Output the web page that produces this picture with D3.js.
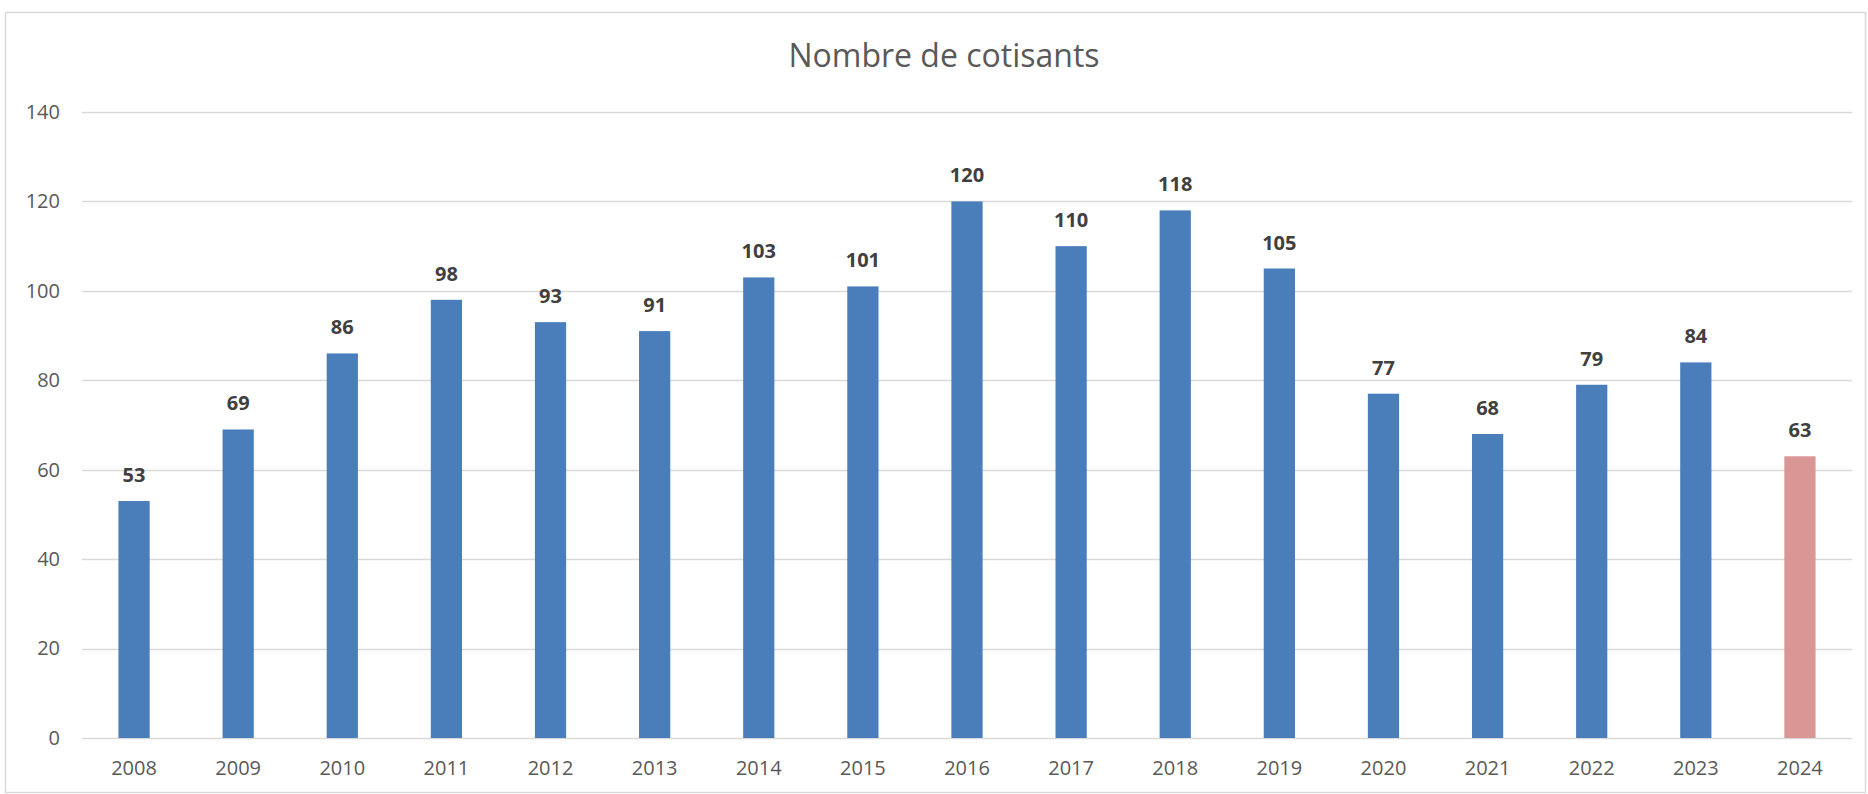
<!DOCTYPE html>
<html>
<head>
<meta charset="utf-8">
<script src="https://cdn.jsdelivr.net/npm/d3@7"></script>
<style>
  html, body { margin: 0; padding: 0; background: #fff; }
  svg { display: block; font-family: "Open Sans", sans-serif; }
</style>
</head>
<body>
<svg id="chart" width="1868" height="794"></svg>
<script>
const years = ['2008', '2009', '2010', '2011', '2012', '2013', '2014', '2015', '2016',
  '2017', '2018', '2019', '2020', '2021', '2022', '2023', '2024']
const cotisants = [53, 69, 86, 98, 93, 91, 103, 101, 120, 110, 118, 105, 77, 68, 79, 84, 63]
const yTicks = [0, 20, 40, 60, 80, 100, 120, 140]
const title = 'Nombre de cotisants'

const svg = d3.select('#chart')
const W = 1868, H = 794
const plot = { left: 82, right: 1852, top: 112, bottom: 738 }

// cadre du graphique
svg.append('rect')
  .attr('x', 5.5).attr('y', 12.5)
  .attr('width', W - 8).attr('height', H - 14)
  .attr('fill', '#fff')
  .attr('stroke', '#d9d9d9')
  .attr('stroke-width', 1.5)

const x = d3.scaleBand()
  .domain(years)
  .range([plot.left, plot.right])
  .paddingInner(0.7)
  .paddingOuter(0.35)

const y = d3.scaleLinear()
  .domain([0, 140])
  .range([plot.bottom, plot.top])

// grille horizontale
svg.append('g')
  .selectAll('line')
  .data(yTicks)
  .join('line')
    .attr('x1', plot.left).attr('x2', plot.right)
    .attr('y1', d => Math.round(y(d)) + 0.5)
    .attr('y2', d => Math.round(y(d)) + 0.5)
    .attr('stroke', '#d9d9d9')
    .attr('stroke-width', 1.5)

const axisY = d3.axisLeft(y).tickValues(yTicks).tickSize(0).tickPadding(22)
svg.append('g')
  .attr('transform', `translate(${plot.left}, 0)`)
  .call(axisY)
  .attr('font-family', '"Open Sans", sans-serif')
  .call(g => g.select('.domain').remove())
  .call(g => g.selectAll('text')
    .attr('fill', '#595959')
    .attr('font-size', '20px'))

const axisX = d3.axisBottom(x).tickSize(0).tickPadding(23)
svg.append('g')
  .attr('transform', `translate(0, ${plot.bottom})`)
  .call(axisX)
  .attr('font-family', '"Open Sans", sans-serif')
  .call(g => g.select('.domain').remove())
  .call(g => g.selectAll('text')
    .attr('fill', '#595959')
    .attr('font-size', '20px'))

// barres
svg.append('g')
  .selectAll('rect')
  .data(years)
  .join('rect')
    .attr('x', d => x(d))
    .attr('width', x.bandwidth())
    .attr('y', (d, i) => y(cotisants[i]))
    .attr('height', (d, i) => y(0) - y(cotisants[i]))
    .attr('fill', d => d === '2024' ? '#d99694' : '#4a7ebb')

// etiquettes de valeurs
svg.append('g')
  .selectAll('text')
  .data(years)
  .join('text')
    .attr('x', d => x(d) + x.bandwidth() / 2)
    .attr('y', (d, i) => y(cotisants[i]) - 19)
    .attr('text-anchor', 'middle')
    .attr('font-size', '20px')
    .attr('font-weight', 'bold')
    .attr('fill', '#404040')
    .text((d, i) => cotisants[i])

svg.append('text')
  .attr('x', 944)
  .attr('y', 67)
  .attr('text-anchor', 'middle')
  .attr('font-size', '32px')
  .attr('fill', '#595959')
  .text(title)
</script>
</body>
</html>
